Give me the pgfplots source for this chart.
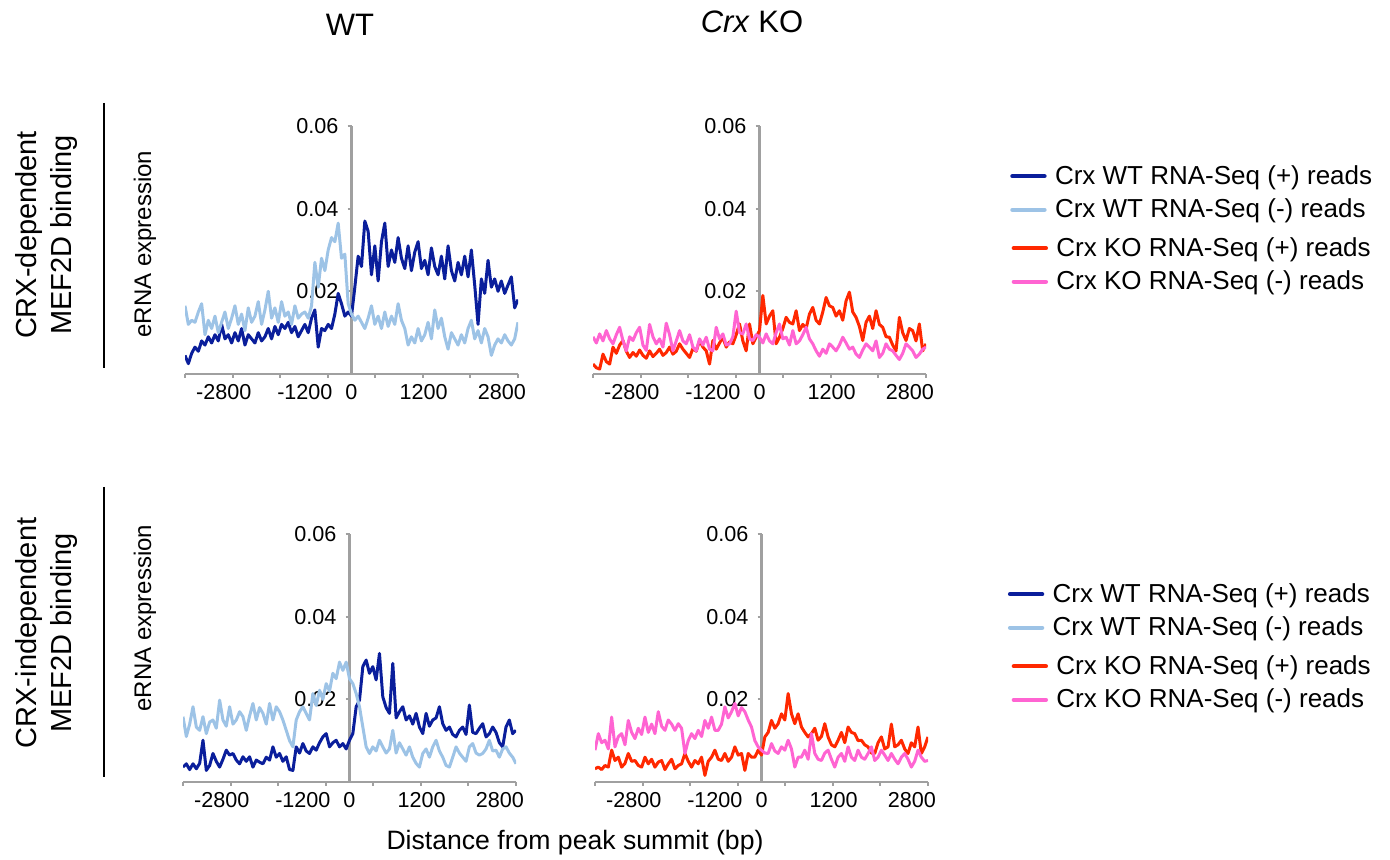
\documentclass[border=0pt]{standalone}
\usepackage{fontspec}
\setmainfont{Liberation Sans}
\usepackage{pgfplots}
\usepackage{pgfplotstable}
\pgfplotsset{compat=1.18}
\definecolor{wtplus}{RGB}{10,30,155}
\definecolor{wtminus}{RGB}{157,195,230}
\definecolor{koplus}{RGB}{255,40,0}
\definecolor{kominus}{RGB}{255,100,210}
\definecolor{axgray}{RGB}{160,160,160}
\newcommand{\tickfont}{\fontsize{10.8}{13}\selectfont}

\pgfplotstableread{
x a b
-3000 0.0045 0.0165
-2940 0.0025 0.0120
-2880 0.0050 0.0130
-2820 0.0065 0.0125
-2760 0.0055 0.0150
-2700 0.0080 0.0170
-2640 0.0070 0.0095
-2580 0.0090 0.0130
-2520 0.0075 0.0110
-2460 0.0095 0.0140
-2400 0.0080 0.0100
-2340 0.0120 0.0125
-2280 0.0085 0.0150
-2220 0.0095 0.0110
-2160 0.0075 0.0135
-2100 0.0100 0.0165
-2040 0.0080 0.0120
-1980 0.0110 0.0145
-1920 0.0070 0.0105
-1860 0.0095 0.0160
-1800 0.0085 0.0125
-1740 0.0075 0.0140
-1680 0.0100 0.0175
-1620 0.0080 0.0120
-1560 0.0090 0.0155
-1500 0.0110 0.0200
-1440 0.0085 0.0135
-1380 0.0115 0.0160
-1320 0.0095 0.0125
-1260 0.0120 0.0175
-1200 0.0110 0.0140
-1140 0.0125 0.0150
-1080 0.0100 0.0120
-1020 0.0115 0.0165
-960 0.0090 0.0135
-900 0.0105 0.0145
-840 0.0120 0.0150
-780 0.0100 0.0135
-720 0.0135 0.0165
-660 0.0155 0.0270
-600 0.0065 0.0210
-540 0.0110 0.0280
-480 0.0105 0.0250
-420 0.0120 0.0300
-360 0.0110 0.0330
-300 0.0145 0.0320
-240 0.0195 0.0365
-180 0.0170 0.0280
-120 0.0140 0.0290
-60 0.0150 0.0170
0 0.0140 0.0145
60 0.0210 0.0130
120 0.0285 0.0140
180 0.0260 0.0125
240 0.0370 0.0110
300 0.0345 0.0135
360 0.0240 0.0165
420 0.0310 0.0120
480 0.0225 0.0140
540 0.0320 0.0110
600 0.0365 0.0150
660 0.0260 0.0115
720 0.0300 0.0140
780 0.0270 0.0120
840 0.0330 0.0170
900 0.0280 0.0130
960 0.0255 0.0110
1020 0.0310 0.0070
1080 0.0250 0.0090
1140 0.0295 0.0075
1200 0.0320 0.0110
1260 0.0255 0.0080
1320 0.0275 0.0095
1380 0.0240 0.0125
1440 0.0305 0.0085
1500 0.0260 0.0155
1560 0.0240 0.0110
1620 0.0285 0.0135
1680 0.0230 0.0090
1740 0.0310 0.0060
1800 0.0250 0.0100
1860 0.0225 0.0085
1920 0.0270 0.0070
1980 0.0240 0.0095
2040 0.0285 0.0075
2100 0.0235 0.0110
2160 0.0300 0.0130
2220 0.0215 0.0085
2280 0.0120 0.0105
2340 0.0230 0.0075
2400 0.0195 0.0110
2460 0.0275 0.0090
2520 0.0210 0.0045
2580 0.0230 0.0070
2640 0.0200 0.0085
2700 0.0225 0.0075
2760 0.0195 0.0095
2820 0.0215 0.0080
2880 0.0235 0.0070
2940 0.0160 0.0085
3000 0.0180 0.0125
}\tabTL

\pgfplotstableread{
x a b
-3000 0.0024 0.0090
-2940 0.0015 0.0075
-2880 0.0012 0.0097
-2820 0.0048 0.0080
-2760 0.0030 0.0105
-2700 0.0024 0.0085
-2640 0.0065 0.0073
-2580 0.0050 0.0095
-2520 0.0070 0.0113
-2460 0.0081 0.0080
-2400 0.0055 0.0056
-2340 0.0040 0.0090
-2280 0.0052 0.0081
-2220 0.0043 0.0100
-2160 0.0058 0.0113
-2100 0.0045 0.0070
-2040 0.0038 0.0057
-1980 0.0056 0.0120
-1920 0.0042 0.0090
-1860 0.0050 0.0073
-1800 0.0060 0.0085
-1740 0.0045 0.0065
-1680 0.0052 0.0123
-1620 0.0065 0.0095
-1560 0.0048 0.0056
-1500 0.0055 0.0080
-1440 0.0073 0.0105
-1380 0.0060 0.0080
-1320 0.0050 0.0073
-1260 0.0040 0.0095
-1200 0.0062 0.0065
-1140 0.0055 0.0056
-1080 0.0081 0.0085
-1020 0.0065 0.0070
-960 0.0056 0.0089
-900 0.0024 0.0060
-840 0.0081 0.0056
-780 0.0060 0.0113
-720 0.0075 0.0085
-660 0.0089 0.0097
-600 0.0065 0.0070
-540 0.0078 0.0073
-480 0.0073 0.0090
-420 0.0095 0.0152
-360 0.0121 0.0100
-300 0.0080 0.0097
-240 0.0056 0.0121
-180 0.0121 0.0085
-120 0.0073 0.0081
-60 0.0089 0.0095
0 0.0105 0.0089
60 0.0190 0.0075
120 0.0121 0.0097
180 0.0140 0.0080
240 0.0153 0.0073
300 0.0073 0.0100
360 0.0089 0.0121
420 0.0110 0.0085
480 0.0137 0.0089
540 0.0125 0.0070
600 0.0121 0.0105
660 0.0153 0.0073
720 0.0105 0.0080
780 0.0120 0.0095
840 0.0110 0.0113
900 0.0145 0.0085
960 0.0161 0.0073
1020 0.0130 0.0056
1080 0.0121 0.0043
1140 0.0150 0.0060
1200 0.0185 0.0050
1260 0.0165 0.0073
1320 0.0161 0.0065
1380 0.0140 0.0056
1440 0.0153 0.0070
1500 0.0130 0.0089
1560 0.0177 0.0075
1620 0.0198 0.0060
1680 0.0150 0.0065
1740 0.0137 0.0048
1800 0.0115 0.0040
1860 0.0081 0.0058
1920 0.0125 0.0073
1980 0.0140 0.0065
2040 0.0110 0.0056
2100 0.0153 0.0080
2160 0.0120 0.0040
2220 0.0113 0.0050
2280 0.0090 0.0073
2340 0.0089 0.0060
2400 0.0070 0.0056
2460 0.0056 0.0045
2520 0.0137 0.0035
2580 0.0100 0.0050
2640 0.0081 0.0073
2700 0.0110 0.0065
2760 0.0105 0.0056
2820 0.0080 0.0040
2880 0.0121 0.0048
2940 0.0056 0.0060
3000 0.0073 0.0065
}\tabTR

\pgfplotstableread{
x a b
-3000 0.0036 0.0158
-2940 0.0044 0.0110
-2880 0.0030 0.0140
-2820 0.0044 0.0182
-2760 0.0032 0.0133
-2700 0.0045 0.0125
-2640 0.0101 0.0158
-2580 0.0028 0.0117
-2520 0.0040 0.0145
-2460 0.0069 0.0150
-2400 0.0050 0.0130
-2340 0.0036 0.0198
-2280 0.0055 0.0150
-2220 0.0077 0.0135
-2160 0.0065 0.0182
-2100 0.0069 0.0140
-2040 0.0053 0.0150
-1980 0.0044 0.0170
-1920 0.0061 0.0158
-1860 0.0050 0.0125
-1800 0.0061 0.0160
-1740 0.0036 0.0190
-1680 0.0053 0.0150
-1620 0.0048 0.0180
-1560 0.0044 0.0166
-1500 0.0060 0.0140
-1440 0.0053 0.0190
-1380 0.0085 0.0150
-1320 0.0060 0.0182
-1260 0.0069 0.0170
-1200 0.0050 0.0150
-1140 0.0061 0.0125
-1080 0.0030 0.0100
-1020 0.0028 0.0085
-960 0.0085 0.0150
-900 0.0070 0.0170
-840 0.0093 0.0182
-780 0.0075 0.0166
-720 0.0069 0.0150
-660 0.0085 0.0214
-600 0.0077 0.0185
-540 0.0095 0.0222
-480 0.0109 0.0200
-420 0.0117 0.0238
-360 0.0085 0.0220
-300 0.0095 0.0263
-240 0.0101 0.0250
-180 0.0085 0.0290
-120 0.0093 0.0270
-60 0.0080 0.0290
0 0.0101 0.0250
60 0.0117 0.0238
120 0.0182 0.0214
180 0.0198 0.0182
240 0.0279 0.0133
300 0.0295 0.0085
360 0.0263 0.0069
420 0.0279 0.0085
480 0.0247 0.0075
540 0.0311 0.0101
600 0.0206 0.0085
660 0.0180 0.0070
720 0.0166 0.0080
780 0.0287 0.0125
840 0.0155 0.0070
900 0.0170 0.0095
960 0.0182 0.0080
1020 0.0150 0.0065
1080 0.0160 0.0085
1140 0.0140 0.0060
1200 0.0166 0.0045
1260 0.0133 0.0036
1320 0.0117 0.0069
1380 0.0166 0.0080
1440 0.0135 0.0060
1500 0.0150 0.0085
1560 0.0155 0.0101
1620 0.0182 0.0075
1680 0.0141 0.0060
1740 0.0125 0.0040
1800 0.0133 0.0036
1860 0.0115 0.0060
1920 0.0109 0.0085
1980 0.0125 0.0070
2040 0.0133 0.0060
2100 0.0115 0.0050
2160 0.0186 0.0085
2220 0.0120 0.0093
2280 0.0117 0.0070
2340 0.0130 0.0065
2400 0.0141 0.0069
2460 0.0109 0.0080
2520 0.0117 0.0101
2580 0.0133 0.0075
2640 0.0120 0.0077
2700 0.0095 0.0060
2760 0.0085 0.0080
2820 0.0133 0.0085
2880 0.0150 0.0070
2940 0.0117 0.0060
3000 0.0125 0.0044
}\tabBL

\pgfplotstableread{
x a b
-3000 0.0032 0.0077
-2940 0.0036 0.0117
-2880 0.0030 0.0095
-2820 0.0040 0.0101
-2760 0.0036 0.0080
-2700 0.0077 0.0157
-2640 0.0052 0.0085
-2580 0.0060 0.0110
-2520 0.0036 0.0117
-2460 0.0045 0.0090
-2400 0.0069 0.0149
-2340 0.0050 0.0120
-2280 0.0052 0.0105
-2220 0.0040 0.0130
-2160 0.0036 0.0115
-2100 0.0060 0.0157
-2040 0.0044 0.0120
-1980 0.0055 0.0140
-1920 0.0036 0.0117
-1860 0.0048 0.0170
-1800 0.0052 0.0135
-1740 0.0030 0.0125
-1680 0.0044 0.0150
-1620 0.0055 0.0140
-1560 0.0032 0.0125
-1500 0.0040 0.0141
-1440 0.0044 0.0130
-1380 0.0069 0.0069
-1320 0.0050 0.0100
-1260 0.0036 0.0117
-1200 0.0052 0.0105
-1140 0.0044 0.0125
-1080 0.0060 0.0110
-1020 0.0016 0.0149
-960 0.0050 0.0130
-900 0.0060 0.0157
-840 0.0077 0.0125
-780 0.0055 0.0125
-720 0.0052 0.0140
-660 0.0069 0.0182
-600 0.0050 0.0155
-540 0.0060 0.0170
-480 0.0085 0.0190
-420 0.0065 0.0160
-360 0.0069 0.0180
-300 0.0028 0.0170
-240 0.0069 0.0150
-180 0.0060 0.0133
-120 0.0060 0.0100
-60 0.0077 0.0085
0 0.0065 0.0077
60 0.0109 0.0070
120 0.0120 0.0069
180 0.0149 0.0093
240 0.0130 0.0075
300 0.0141 0.0069
360 0.0165 0.0085
420 0.0150 0.0077
480 0.0214 0.0101
540 0.0165 0.0080
600 0.0141 0.0036
660 0.0165 0.0060
720 0.0133 0.0060
780 0.0120 0.0077
840 0.0109 0.0055
900 0.0117 0.0117
960 0.0130 0.0069
1020 0.0101 0.0055
1080 0.0110 0.0052
1140 0.0141 0.0070
1200 0.0109 0.0077
1260 0.0090 0.0055
1320 0.0085 0.0036
1380 0.0101 0.0060
1440 0.0120 0.0069
1500 0.0095 0.0050
1560 0.0133 0.0085
1620 0.0120 0.0060
1680 0.0117 0.0052
1740 0.0100 0.0077
1800 0.0101 0.0060
1860 0.0090 0.0055
1920 0.0085 0.0069
1980 0.0070 0.0085
2040 0.0069 0.0052
2100 0.0095 0.0060
2160 0.0109 0.0077
2220 0.0080 0.0065
2280 0.0085 0.0052
2340 0.0140 0.0069
2400 0.0085 0.0055
2460 0.0090 0.0044
2520 0.0101 0.0060
2580 0.0080 0.0069
2640 0.0069 0.0055
2700 0.0095 0.0036
2760 0.0085 0.0050
2820 0.0133 0.0077
2880 0.0069 0.0060
2940 0.0085 0.0050
3000 0.0109 0.0052
}\tabBR

\pgfplotsset{
  panel/.style={
    scale only axis, width=166.5pt, height=124pt,
    xmin=-3000, xmax=3000, ymin=0, ymax=0.06,
    axis x line*=bottom, axis y line*=center,
    axis line style={draw=axgray, line width=1.1pt},
    xtick={-2300,-840,0,1300,2710},
    xticklabels={-2800,-1200,0,1200,2800},
    minor xtick={-3000,-2142.9,-1285.7,-428.6,428.6,1285.7,2142.9,3000},
    ytick={0.02,0.04,0.06},
    yticklabels={0.02,0.04,0.06},
    minor ytick={0.02,0.04,0.06},
    scaled y ticks=false, scaled x ticks=false,
    hide obscured x ticks=false, hide obscured y ticks=false,
    tick align=outside,
    major tick length=0pt, minor tick length=2pt,
    tick style={draw=axgray, line width=1pt},
    ticklabel style={font=\tickfont},
    xticklabel style={yshift=-1.5pt},
    yticklabel style={xshift=-3pt},
    every axis plot/.append style={line width=1.5pt, line join=round},
    legend cell align=left,
    legend style={draw=none, fill=none, inner sep=0pt, row sep=3.5pt,
      font=\fontsize{13}{15}\selectfont,
      nodes={inner sep=1.2pt},
      /tikz/every odd column/.append style={column sep=3pt}},
    legend image code/.code={\draw[##1, line width=2.2pt, line cap=round] (0pt,0pt) -- (16pt,0pt);},
  }
}

\begin{document}
\begin{tikzpicture}
\path[use as bounding box] (0pt,0pt) rectangle (695pt,430pt);

\begin{axis}[panel, at={(92.5pt,243pt)}, anchor=south west,
  legend style={at={(axis description cs:2.477,0.853)}, anchor=north west}]
\addplot[wtplus] table[x=x,y=a]{\tabTL};
\addlegendentry{Crx WT RNA-Seq (+) reads}
\addplot[wtminus] table[x=x,y=b]{\tabTL};
\addlegendentry{Crx WT RNA-Seq (-) reads}
\end{axis}

\begin{axis}[panel, at={(296.5pt,243pt)}, anchor=south west,
  legend style={at={(axis description cs:1.256,0.563)}, anchor=north west}]
\addplot[koplus] table[x=x,y=a]{\tabTR};
\addlegendentry{Crx KO RNA-Seq (+) reads}
\addplot[kominus] table[x=x,y=b]{\tabTR};
\addlegendentry{Crx KO RNA-Seq (-) reads}
\end{axis}

\begin{axis}[panel, at={(91.5pt,39pt)}, anchor=south west,
  legend style={at={(axis description cs:2.476,0.813)}, anchor=north west}]
\addplot[wtplus] table[x=x,y=a]{\tabBL};
\addlegendentry{Crx WT RNA-Seq (+) reads}
\addplot[wtminus] table[x=x,y=b]{\tabBL};
\addlegendentry{Crx WT RNA-Seq (-) reads}
\end{axis}

\begin{axis}[panel, at={(297.5pt,39pt)}, anchor=south west,
  legend style={at={(axis description cs:1.25,0.522)}, anchor=north west}]
\addplot[koplus] table[x=x,y=a]{\tabBR};
\addlegendentry{Crx KO RNA-Seq (+) reads}
\addplot[kominus] table[x=x,y=b]{\tabBR};
\addlegendentry{Crx KO RNA-Seq (-) reads}
\end{axis}

\node[font=\fontsize{15.5}{18}\selectfont] at (175pt,417.5pt) {WT};
\node[font=\fontsize{15.5}{18}\selectfont] at (376pt,419pt) {\textit{Crx} KO};

\node[rotate=90, align=center, font=\fontsize{14.5}{17.5}\selectfont] at (23.5pt,312.5pt) {CRX-dependent\\MEF2D binding};
\draw[line width=1pt] (52pt,378.5pt) -- (52pt,246pt);
\node[rotate=90, align=center, font=\fontsize{14.5}{17.5}\selectfont] at (23.5pt,113.5pt) {CRX-independent\\MEF2D binding};
\draw[line width=1pt] (52pt,186.5pt) -- (52pt,41.5pt);

\node[rotate=90, font=\fontsize{12}{14}\selectfont] at (72.5pt,308pt) {eRNA expression};
\node[rotate=90, font=\fontsize{12}{14}\selectfont] at (72.5pt,121pt) {eRNA expression};

\node[font=\fontsize{13.3}{16}\selectfont] at (287.5pt,8.5pt) {Distance from peak summit (bp)};
\end{tikzpicture}
\end{document}
